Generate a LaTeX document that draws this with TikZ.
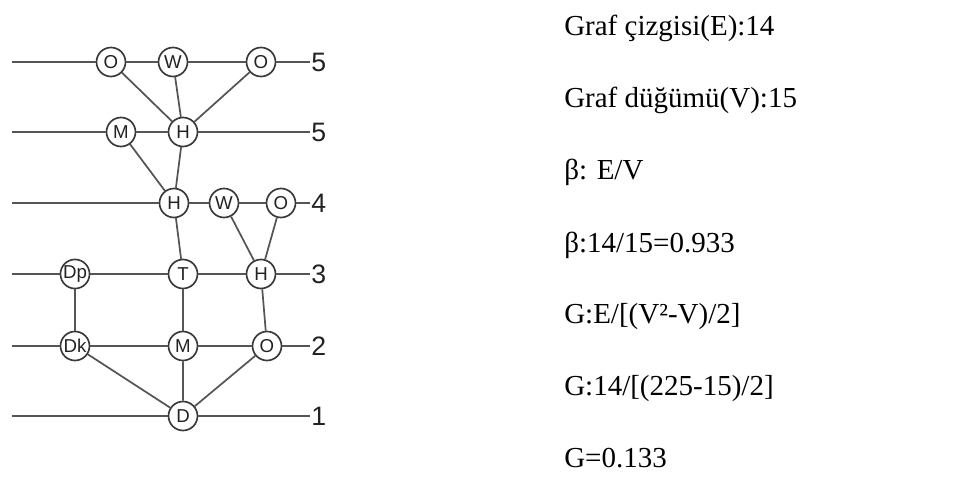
\documentclass[tikz,border=0pt]{standalone}
\usepackage{fontspec}
\setmainfont{Liberation Serif}
\newfontfamily\arialfont{Liberation Sans}
\usetikzlibrary{positioning}
\definecolor{linegray}{HTML}{555555}
\definecolor{circlegray}{HTML}{3A3A3A}
\definecolor{labelgray}{HTML}{222222}
\tikzset{
  atom/.style={circle,draw=circlegray,line width=1.25pt,fill=white,minimum size=21.75pt,inner sep=0pt,font=\arialfont\fontsize{14}{15}\selectfont,text=labelgray},
  bond/.style={draw=linegray,line width=1.3pt},
  levelnum/.style={anchor=west,inner sep=0pt,font=\arialfont\fontsize{20}{22}\selectfont,text=labelgray},
  result/.style={anchor=base west,inner sep=0pt,font=\fontsize{21.75}{24}\selectfont}
}

\begin{document}
\begin{tikzpicture}[x=0.75pt,y=-0.75pt]
  \useasboundingbox (0,0) rectangle (980,477);
  \coordinate (l5a) at (12,62);   \coordinate (r5a) at (310,62);
  \coordinate (l5b) at (12,132);  \coordinate (r5b) at (310,132);
  \coordinate (l4) at (12,203);   \coordinate (r4) at (310,203);
  \coordinate (l3) at (12,274);   \coordinate (r3) at (310,274);
  \coordinate (l2) at (12,346);   \coordinate (r2) at (310,346);
  \coordinate (l1) at (12,416);   \coordinate (r1) at (310,416);
  \node[atom] (oa) at (111,62) {O};
  \node[atom] (wa) at (173,62) {W};
  \node[atom] (ob) at (261,62) {O};
  \node[atom] (ma) at (121,132) {M};
  \node[atom] (ha) at (183,132) {H};
  \node[atom] (hb) at (174,203) {H};
  \node[atom] (wb) at (224,203) {W};
  \node[atom] (oc) at (281,203) {O};
  \node[atom] (dp) at (75,274) {Dp};
  \node[atom] (ta) at (183,274) {T};
  \node[atom] (hc) at (261,274) {H};
  \node[atom] (dk) at (75,346) {Dk};
  \node[atom] (mb) at (183,346) {M};
  \node[atom] (od) at (267,346) {O};
  \node[atom] (da) at (183,416) {D};
  \draw[bond] (l5a) -- (oa) -- (wa) -- (ob) -- (r5a);
  \draw[bond] (l5b) -- (ma) -- (ha) -- (r5b);
  \draw[bond] (l4) -- (hb) -- (wb) -- (oc) -- (r4);
  \draw[bond] (l3) -- (dp) -- (ta) -- (hc) -- (r3);
  \draw[bond] (l2) -- (dk) -- (mb) -- (od) -- (r2);
  \draw[bond] (l1) -- (da) -- (r1);
  \draw[bond] (oa) -- (ha) (wa) -- (ha) (ob) -- (ha);
  \draw[bond] (ma) -- (hb) (ha) -- (hb) (hb) -- (ta);
  \draw[bond] (wb) -- (hc) (oc) -- (hc) (hc) -- (od);
  \draw[bond] (dp) -- (dk) (ta) -- (mb);
  \draw[bond] (dk) -- (da) (mb) -- (da) (od) -- (da);
  \node[levelnum,right=0.75pt of r5a] (n5a) {5};
  \node[levelnum,right=0.75pt of r5b] (n5b) {5};
  \node[levelnum,right=0.75pt of r4] (n4) {4};
  \node[levelnum,right=0.75pt of r3] (n3) {3};
  \node[levelnum,right=0.75pt of r2] (n2) {2};
  \node[levelnum,right=0.75pt of r1] (n1) {1};
  \node[result] (t1) at (564,36) {Graf çizgisi(E):14};
  \node[result] (t2) at (564,108) {Graf düğümü(V):15};
  \node[result] (t3) at (564,180) {β: E/V};
  \node[result] (t4) at (564,252) {β:14/15=0.933};
  \node[result] (t5) at (564,323.5) {G:E/[(V²-V)/2]};
  \node[result] (t6) at (564,395) {G:14/[(225-15)/2]};
  \node[result] (t7) at (564,467) {G=0.133};
\end{tikzpicture}
\end{document}
